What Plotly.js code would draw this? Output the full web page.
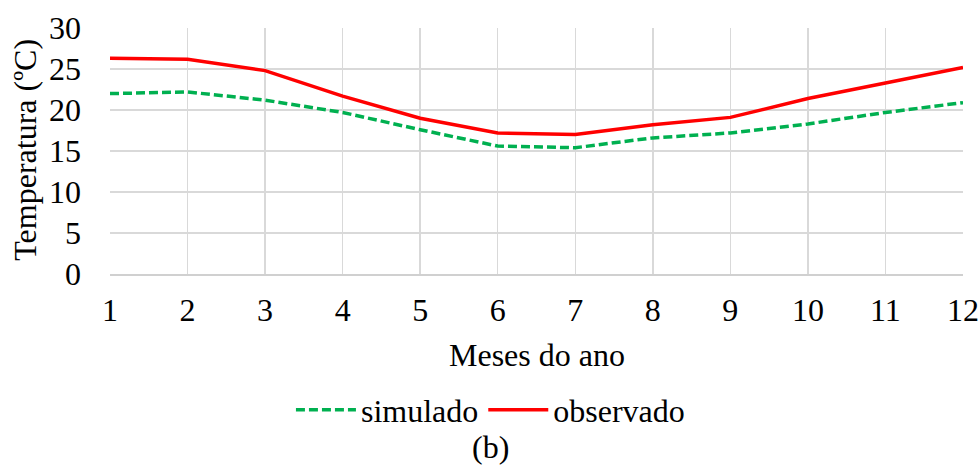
<!DOCTYPE html>
<html>
<head>
<meta charset="utf-8">
<script src="https://cdn.plot.ly/plotly-3.0.1.min.js"></script>
<style>
html,body{margin:0;padding:0;background:#fff;}
#chart{width:979px;height:470px;}
</style>
</head>
<body>
<div id="chart"></div>
<script>
const months = [1,2,3,4,5,6,7,8,9,10,11,12];
const simulado = [22.0,22.2,21.2,19.7,17.6,15.6,15.4,16.6,17.2,18.3,19.7,20.9];
const observado = [26.3,26.2,24.8,21.7,19.0,17.2,17.0,18.2,19.1,21.4,23.3,25.2];
const yTicks = [0,5,10,15,20,25,30];

const fontFam = 'Times New Roman, Liberation Serif, DejaVu Serif, serif';
const fs = 32;

const traces = [
  {x: months, y: simulado, name: 'simulado', type: 'scatter', mode: 'lines',
   line: {color: '#00b050', width: 3.5, dash: '9px,4px'}},
  {x: months, y: observado, name: 'observado', type: 'scatter', mode: 'lines',
   line: {color: '#ff0000', width: 3.5}}
];

const layout = {
  width: 979, height: 470,
  margin: {l: 110, r: 16, t: 28, b: 196},
  paper_bgcolor: '#fff', plot_bgcolor: '#fff',
  font: {family: fontFam, size: fs, color: '#000'},
  showlegend: true,
  legend: {orientation: 'h', x: 0.446, xanchor: 'center', y: -0.553, yanchor: 'middle',
           font: {family: fontFam, size: fs, color: '#000'}, itemwidth: 60, tracegroupgap: 0},
  xaxis: {
    range: [1, 12], tickmode: 'array', tickvals: months, ticktext: months.map(String),
    showgrid: true, gridcolor: '#d9d9d9', gridwidth: 1.5,
    showline: true, linecolor: '#d0d0d0', linewidth: 1.5, zeroline: false,
    ticks: '', ticklabelstandoff: 7,
    tickfont: {family: fontFam, size: fs, color: '#000'},
    fixedrange: true
  },
  yaxis: {
    range: [0, 30], tickmode: 'array', tickvals: yTicks,
    showgrid: true, gridcolor: '#d9d9d9', gridwidth: 1.5,
    showline: false, zeroline: false, ticks: '', ticklabelstandoff: 28,
    tickfont: {family: fontFam, size: fs, color: '#000'},
    fixedrange: true
  },
  annotations: [
    {text: 'Temperatura (ºC)', xref: 'paper', yref: 'paper', x: -0.1, y: 0.504, textangle: -90,
     xanchor: 'center', yanchor: 'middle', showarrow: false,
     font: {family: fontFam, size: fs, color: '#000'}},
    {text: 'Meses do ano', xref: 'paper', yref: 'paper', x: 0.5, y: -0.329, xanchor: 'center', yanchor: 'middle',
     showarrow: false, font: {family: fontFam, size: fs, color: '#000'}},
    {text: '(b)', xref: 'paper', yref: 'paper', x: 0.446, y: -0.703, xanchor: 'center', yanchor: 'middle',
     showarrow: false, font: {family: fontFam, size: fs, color: '#000'}}
  ]
};

Plotly.newPlot('chart', traces, layout, {displayModeBar: false, staticPlot: true});
</script>
</body>
</html>
